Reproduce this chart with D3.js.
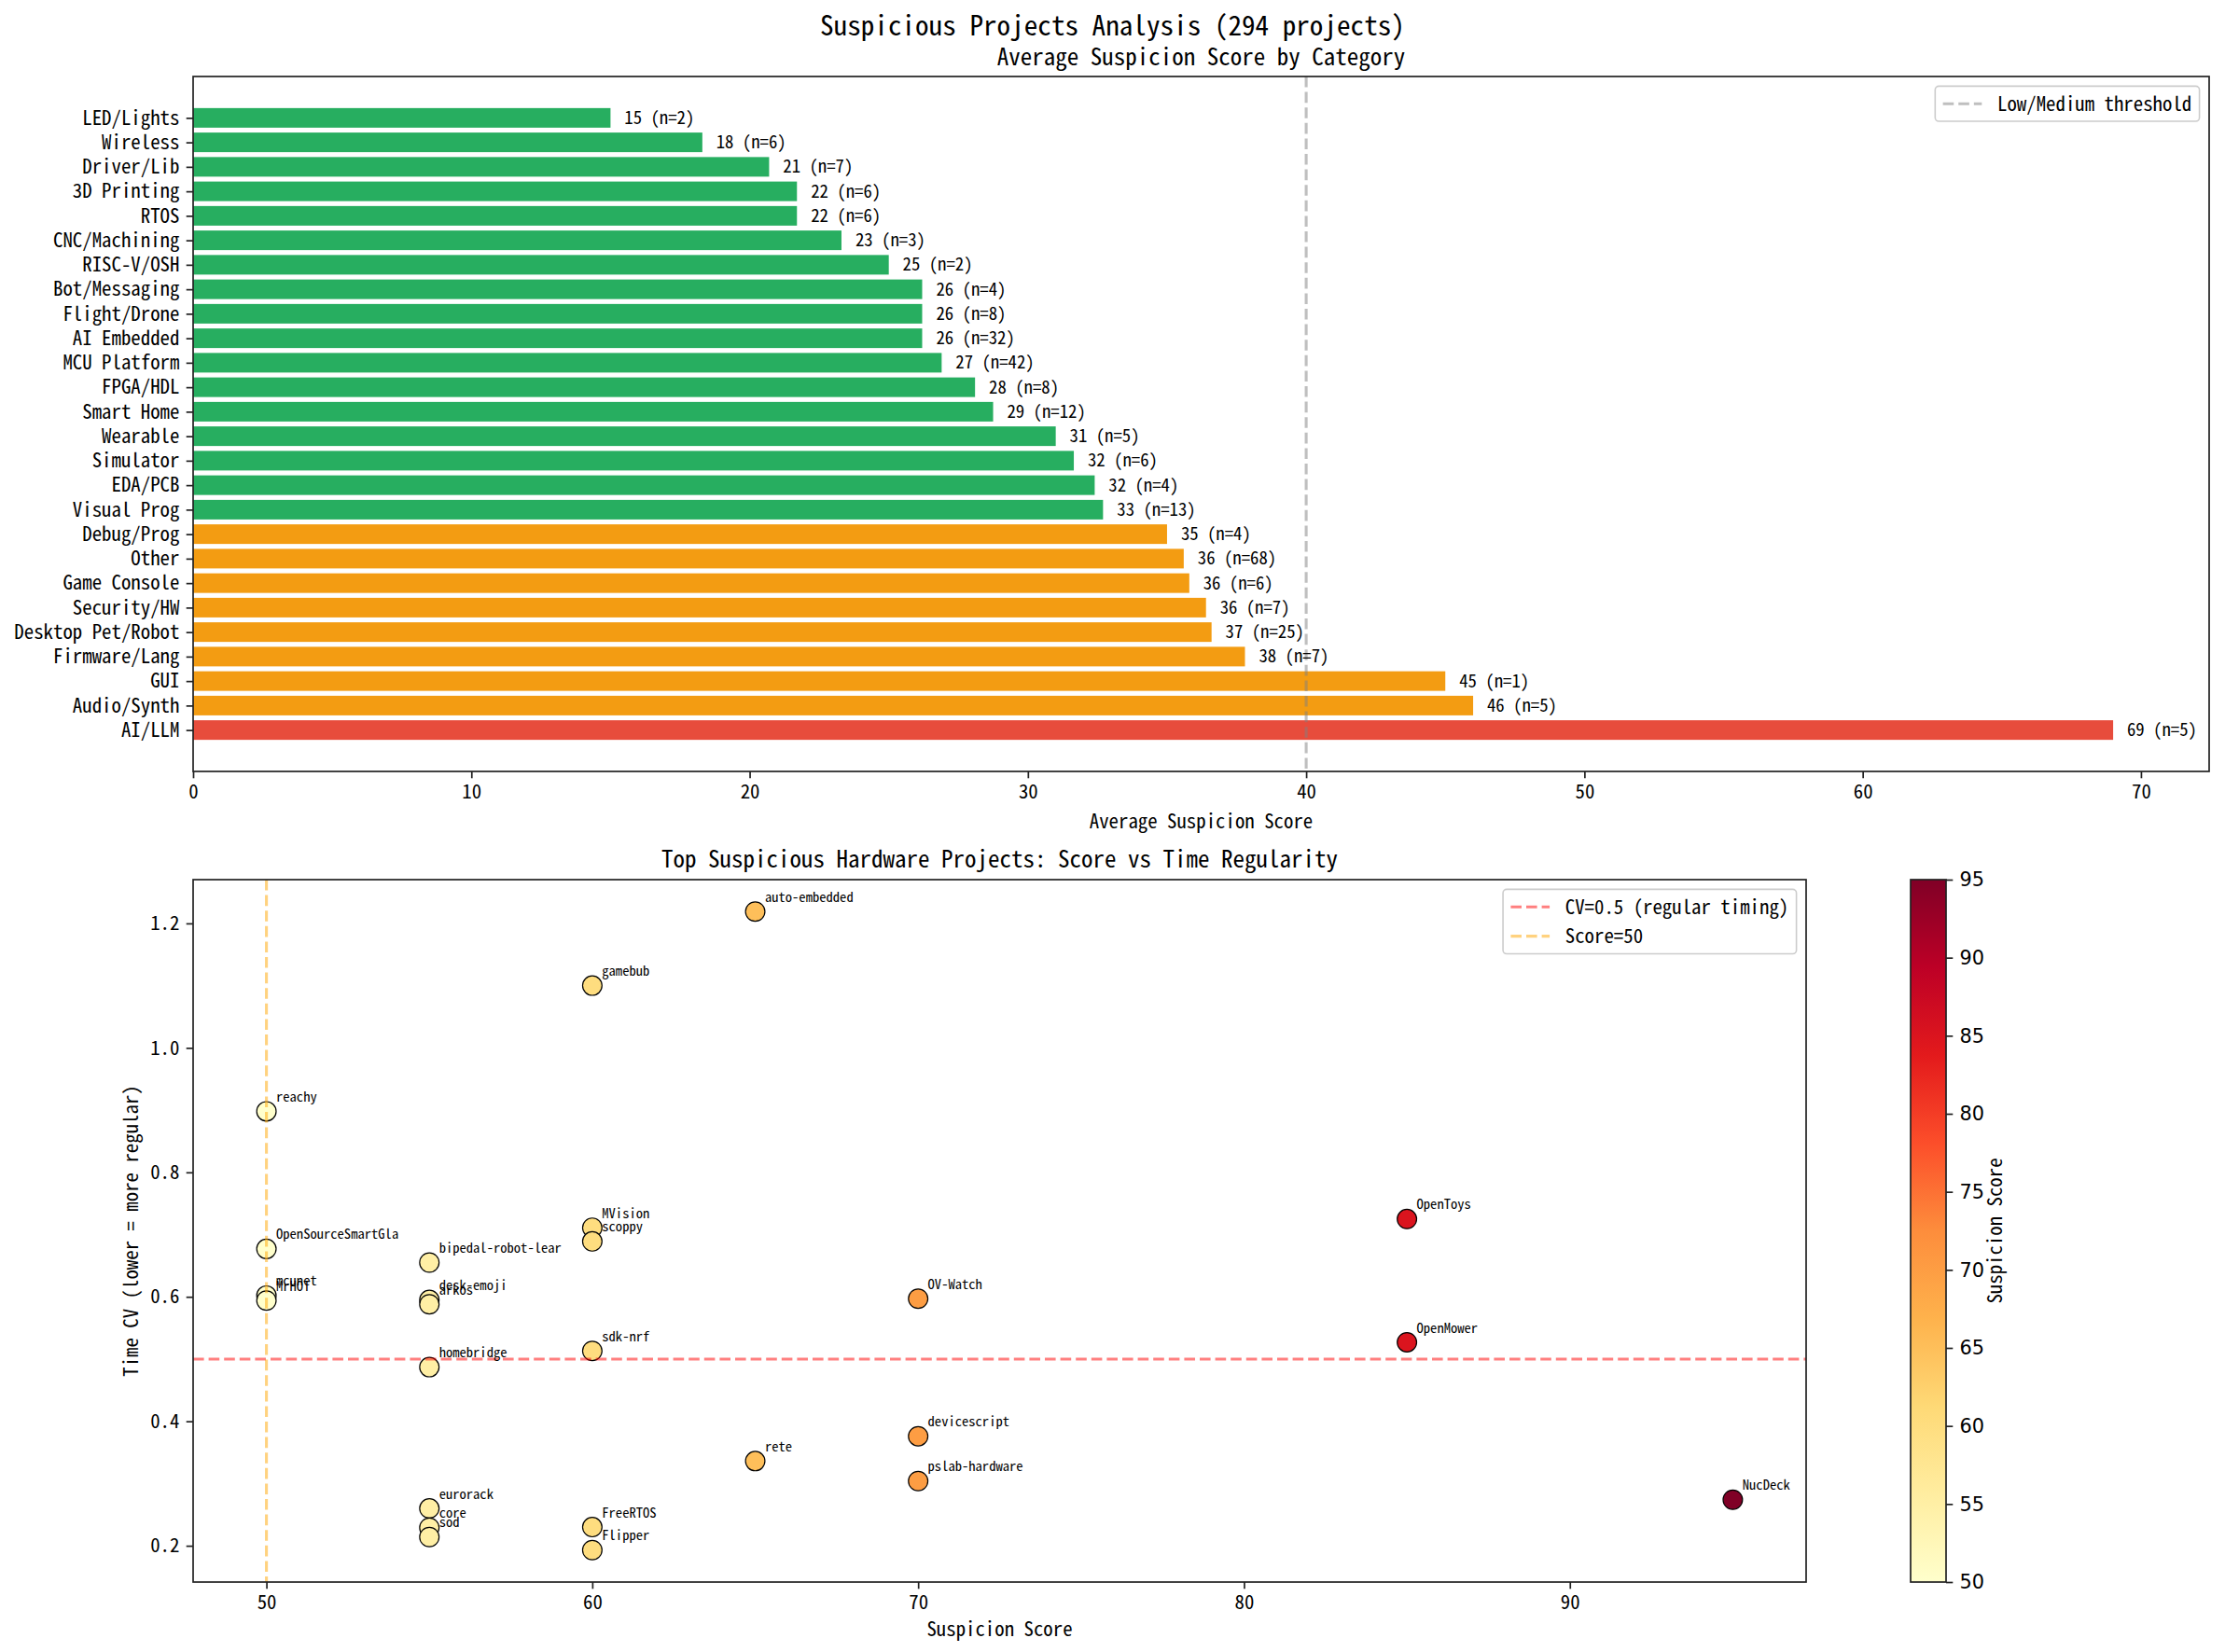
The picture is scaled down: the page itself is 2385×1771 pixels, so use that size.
<!DOCTYPE html>
<html>
<head>
<meta charset="utf-8">
<script src="https://cdn.jsdelivr.net/npm/d3@7"></script>
<style>
  body { margin: 0; background: #fff; }
</style>
</head>
<body>
<div id="chart"></div>
<script>
// ---- data ----
const categories = ['LED/Lights', 'Wireless', 'Driver/Lib', '3D Printing', 'RTOS', 'CNC/Machining',
  'RISC-V/OSH', 'Bot/Messaging', 'Flight/Drone', 'AI Embedded', 'MCU Platform', 'FPGA/HDL',
  'Smart Home', 'Wearable', 'Simulator', 'EDA/PCB', 'Visual Prog', 'Debug/Prog', 'Other',
  'Game Console', 'Security/HW', 'Desktop Pet/Robot', 'Firmware/Lang', 'GUI', 'Audio/Synth', 'AI/LLM'];
const avgScores = [15.0, 18.3, 20.7, 21.7, 21.7, 23.3, 25.0, 26.2, 26.2, 26.2, 26.9, 28.1, 28.75,
  31.0, 31.65, 32.4, 32.7, 35.0, 35.6, 35.8, 36.4, 36.6, 37.8, 45.0, 46.0, 69.0];
const counts = [2, 6, 7, 6, 6, 3, 2, 4, 8, 32, 42, 8, 12, 5, 6, 4, 13, 4, 68, 6, 7, 25, 7, 1, 5, 5];

const projects = ['auto-embedded', 'gamebub', 'reachy', 'MVision', 'scoppy', 'OpenToys',
  'OpenSourceSmartGla', 'bipedal-robot-lear', 'mcunet', 'MrHOT', 'desk-emoji', 'arkos', 'OV-Watch',
  'OpenMower', 'sdk-nrf', 'homebridge', 'devicescript', 'rete', 'pslab-hardware', 'NucDeck',
  'eurorack', 'core', 'sod', 'FreeRTOS', 'Flipper'];
const projScores = [65, 60, 50, 60, 60, 85, 50, 55, 50, 50, 55, 55, 70, 85, 60, 55, 70, 65, 70, 95,
  55, 55, 55, 60, 60];
const projCV = [1.219, 1.100, 0.898, 0.711, 0.689, 0.725, 0.677, 0.655, 0.602, 0.594, 0.595, 0.588,
  0.597, 0.527, 0.513, 0.487, 0.376, 0.336, 0.304, 0.274, 0.260, 0.229, 0.214, 0.230, 0.193];

const barTicks = [0, 10, 20, 30, 40, 50, 60, 70];
const scoreTicks = [50, 60, 70, 80, 90];
const cvTicks = [0.2, 0.4, 0.6, 0.8, 1.0, 1.2];
const cbarTicks = [50, 55, 60, 65, 70, 75, 80, 85, 90, 95];
const ylorrd = ['#ffffcc', '#ffeda0', '#fed976', '#feb24c', '#fd8d3c', '#fc4e2a', '#e31a1c', '#bd0026', '#800026'];

// ---- font: the reference uses a half-width monospace gothic ----
const ctx = document.createElement('canvas').getContext('2d');
function emAdvance(fam) {
  ctx.font = `100px ${fam}`;
  return ctx.measureText('MMMMMMMMMM').width / 1000;
}
let FONT = '"Noto Sans Mono CJK SC"';
let adv = emAdvance(FONT);
if (Math.abs(adv - 0.5) > 0.03) { FONT = '"Liberation Mono"'; adv = emAdvance(FONT); }
const fs = pt => pt * 150 / 72 * 0.5 / adv;   // keep the same advance width as the original
const TICK = 7.3, PAD = 7.3;

const W = 2385, H = 1771;
const svg = d3.select('#chart').append('svg')
  .attr('width', W).attr('height', H)
  .style('background', '#fff');

const top_ = { left: 207, right: 2368, top: 82, bottom: 827 };
const bot = { left: 207, right: 1936, top: 943, bottom: 1696 };
const cbar = { left: 2048, right: 2086, top: 943, bottom: 1696 };

function styleAxis(g, size) {
  g.select('.domain').remove();
  g.attr('font-family', FONT).attr('font-size', size);
  g.selectAll('.tick line').attr('stroke', '#222').attr('stroke-width', 1.7);
  g.selectAll('.tick text').attr('fill', '#000');
}

function drawLegend(right, topY, entries) {
  const em = 10 * 150 / 72;
  const g = svg.append('g');
  const box = g.append('rect');
  const rowH = 21, gap = 0.5 * em, bp = 0.4 * em;
  let maxW = 0;
  entries.forEach((e, i) => {
    const t = g.append('text')
      .attr('font-family', FONT).attr('font-size', fs(10))
      .attr('dy', '0.35em').text(e.label);
    maxW = Math.max(maxW, t.node().getComputedTextLength());
    e.node = t;
  });
  const w = 2 * bp + 2 * em + 0.8 * em + maxW;
  const h = 2 * bp + entries.length * rowH + (entries.length - 1) * gap;
  const left = right - w;
  box.attr('x', left).attr('y', topY).attr('width', w).attr('height', h)
    .attr('rx', 4).attr('fill', '#fff').attr('fill-opacity', 0.8)
    .attr('stroke', '#cccccc').attr('stroke-width', 1.6);
  entries.forEach((e, i) => {
    const cy = topY + bp + rowH / 2 + i * (rowH + gap);
    g.append('line')
      .attr('x1', left + bp).attr('x2', left + bp + 2 * em)
      .attr('y1', cy).attr('y2', cy)
      .attr('stroke', e.color).attr('stroke-opacity', 0.5)
      .attr('stroke-width', 3.1).attr('stroke-dasharray', '11.6,5');
    e.node.attr('x', left + bp + 2.8 * em).attr('y', cy);
  });
}

// ---- suptitle ----
svg.append('text')
  .attr('x', W / 2).attr('y', 38)
  .attr('text-anchor', 'middle')
  .attr('font-family', FONT).attr('font-size', fs(14))
  .text('Suspicious Projects Analysis (294 projects)');

// ================= top: average score by category =================
const n = categories.length;
const xTop = d3.scaleLinear().domain([0, d3.max(avgScores) * 1.05]).range([top_.left, top_.right]);
const yTop = d3.scaleLinear().domain([-0.4 - 1.29, n - 1 + 0.4 + 1.29]).range([top_.bottom, top_.top]);
const pos = i => n - 1 - i;   // first category at the top
const barColor = v => v >= 60 ? '#e74c3c' : v >= 35 ? '#f39c12' : '#27ae60';

svg.append('g').selectAll('rect')
  .data(avgScores)
  .enter().append('rect')
  .attr('x', xTop(0))
  .attr('y', (d, i) => yTop(pos(i) + 0.4))
  .attr('width', d => xTop(d) - xTop(0))
  .attr('height', (d, i) => yTop(pos(i) - 0.4) - yTop(pos(i) + 0.4))
  .attr('fill', d => barColor(d));

// threshold line
svg.append('line')
  .attr('x1', xTop(40)).attr('x2', xTop(40))
  .attr('y1', top_.top).attr('y2', top_.bottom)
  .attr('stroke', 'gray').attr('stroke-opacity', 0.5)
  .attr('stroke-width', 3.1).attr('stroke-dasharray', '11.6,5');

// value labels
svg.append('g').selectAll('text')
  .data(avgScores)
  .enter().append('text')
  .attr('x', d => xTop(d + 0.5))
  .attr('y', (d, i) => yTop(pos(i)))
  .attr('dy', '0.35em')
  .attr('font-family', FONT).attr('font-size', fs(9))
  .text((d, i) => `${d3.format('.0f')(d)} (n=${counts[i]})`);

const gxTop = svg.append('g')
  .attr('transform', `translate(0,${top_.bottom})`)
  .call(d3.axisBottom(xTop).tickValues(barTicks).tickFormat(d3.format('d')).tickSize(TICK).tickPadding(PAD));
styleAxis(gxTop, fs(10));

const gyTop = svg.append('g')
  .attr('transform', `translate(${top_.left},0)`)
  .call(d3.axisLeft(yTop).tickValues(categories.map((c, i) => pos(i)))
    .tickFormat(p => categories[n - 1 - p]).tickSize(TICK).tickPadding(PAD));
styleAxis(gyTop, fs(10));

svg.append('rect')
  .attr('x', top_.left).attr('y', top_.top)
  .attr('width', top_.right - top_.left).attr('height', top_.bottom - top_.top)
  .attr('fill', 'none').attr('stroke', '#222').attr('stroke-width', 1.7);

svg.append('text')
  .attr('x', (top_.left + top_.right) / 2).attr('y', 70)
  .attr('text-anchor', 'middle')
  .attr('font-family', FONT).attr('font-size', fs(12))
  .text('Average Suspicion Score by Category');

svg.append('text')
  .attr('x', (top_.left + top_.right) / 2).attr('y', 888)
  .attr('text-anchor', 'middle')
  .attr('font-family', FONT).attr('font-size', fs(10))
  .text('Average Suspicion Score');

drawLegend(top_.right - 10.4, top_.top + 10.4, [{ label: 'Low/Medium threshold', color: 'gray' }]);

// ================= bottom: score vs time regularity =================
const [sMin, sMax] = d3.extent(projScores);
const [cMin, cMax] = d3.extent(projCV);
const xBot = d3.scaleLinear()
  .domain([sMin - 0.05 * (sMax - sMin), sMax + 0.05 * (sMax - sMin)])
  .range([bot.left, bot.right]);
const yBot = d3.scaleLinear()
  .domain([cMin - 0.05 * (cMax - cMin), cMax + 0.05 * (cMax - cMin)])
  .range([bot.bottom, bot.top]);
const color = d3.scaleLinear()
  .domain(ylorrd.map((c, i) => 50 + i * 45 / (ylorrd.length - 1)))
  .range(ylorrd);

svg.append('g').selectAll('circle')
  .data(projScores)
  .enter().append('circle')
  .attr('cx', d => xBot(d))
  .attr('cy', (d, i) => yBot(projCV[i]))
  .attr('r', 10.4)
  .attr('fill', d => color(d))
  .attr('stroke', '#000').attr('stroke-width', 1.2);

svg.append('line')
  .attr('x1', bot.left).attr('x2', bot.right)
  .attr('y1', yBot(0.5)).attr('y2', yBot(0.5))
  .attr('stroke', 'red').attr('stroke-opacity', 0.5)
  .attr('stroke-width', 3.1).attr('stroke-dasharray', '11.6,5');
svg.append('line')
  .attr('x1', xBot(50)).attr('x2', xBot(50))
  .attr('y1', bot.top).attr('y2', bot.bottom)
  .attr('stroke', 'orange').attr('stroke-opacity', 0.5)
  .attr('stroke-width', 3.1).attr('stroke-dasharray', '11.6,5');

svg.append('g').selectAll('text')
  .data(projects)
  .enter().append('text')
  .attr('x', (d, i) => xBot(projScores[i]) + 10.4)
  .attr('y', (d, i) => yBot(projCV[i]) - 10.4)
  .attr('font-family', FONT).attr('font-size', fs(7))
  .text(d => d);

const gxBot = svg.append('g')
  .attr('transform', `translate(0,${bot.bottom})`)
  .call(d3.axisBottom(xBot).tickValues(scoreTicks).tickFormat(d3.format('d')).tickSize(TICK).tickPadding(PAD));
styleAxis(gxBot, fs(10));

const gyBot = svg.append('g')
  .attr('transform', `translate(${bot.left},0)`)
  .call(d3.axisLeft(yBot).tickValues(cvTicks).tickFormat(d3.format('.1f')).tickSize(TICK).tickPadding(PAD));
styleAxis(gyBot, fs(10));

svg.append('rect')
  .attr('x', bot.left).attr('y', bot.top)
  .attr('width', bot.right - bot.left).attr('height', bot.bottom - bot.top)
  .attr('fill', 'none').attr('stroke', '#222').attr('stroke-width', 1.7);

svg.append('text')
  .attr('x', (bot.left + bot.right) / 2).attr('y', 930)
  .attr('text-anchor', 'middle')
  .attr('font-family', FONT).attr('font-size', fs(12))
  .text('Top Suspicious Hardware Projects: Score vs Time Regularity');

svg.append('text')
  .attr('x', (bot.left + bot.right) / 2).attr('y', 1754)
  .attr('text-anchor', 'middle')
  .attr('font-family', FONT).attr('font-size', fs(10))
  .text('Suspicion Score');

svg.append('text')
  .attr('transform', `translate(141,${(bot.top + bot.bottom) / 2}) rotate(-90)`)
  .attr('text-anchor', 'middle').attr('dy', '0.35em')
  .attr('font-family', FONT).attr('font-size', fs(10))
  .text('Time CV (lower = more regular)');

drawLegend(bot.right - 10.4, bot.top + 10.4, [
  { label: 'CV=0.5 (regular timing)', color: 'red' },
  { label: 'Score=50', color: 'orange' }
]);

// ---- colorbar ----
const grad = svg.append('defs').append('linearGradient')
  .attr('id', 'cbarGrad')
  .attr('x1', 0).attr('y1', 1).attr('x2', 0).attr('y2', 0);
ylorrd.forEach((c, i) => {
  grad.append('stop').attr('offset', i / (ylorrd.length - 1)).attr('stop-color', c);
});
const yCbar = d3.scaleLinear().domain([50, 95]).range([cbar.bottom, cbar.top]);
svg.append('rect')
  .attr('x', cbar.left).attr('y', cbar.top)
  .attr('width', cbar.right - cbar.left).attr('height', cbar.bottom - cbar.top)
  .attr('fill', 'url(#cbarGrad)')
  .attr('stroke', '#222').attr('stroke-width', 1.7);
const gCbar = svg.append('g')
  .attr('transform', `translate(${cbar.right},0)`)
  .call(d3.axisRight(yCbar).tickValues(cbarTicks).tickFormat(d3.format('d')).tickSize(TICK).tickPadding(PAD));
styleAxis(gCbar, 10 * 150 / 72);
gCbar.attr('font-family', '"DejaVu Sans"');

svg.append('text')
  .attr('transform', `translate(2139,${(cbar.top + cbar.bottom) / 2}) rotate(-90)`)
  .attr('text-anchor', 'middle').attr('dy', '0.35em')
  .attr('font-family', FONT).attr('font-size', fs(10))
  .text('Suspicion Score');
</script>
</body>
</html>
